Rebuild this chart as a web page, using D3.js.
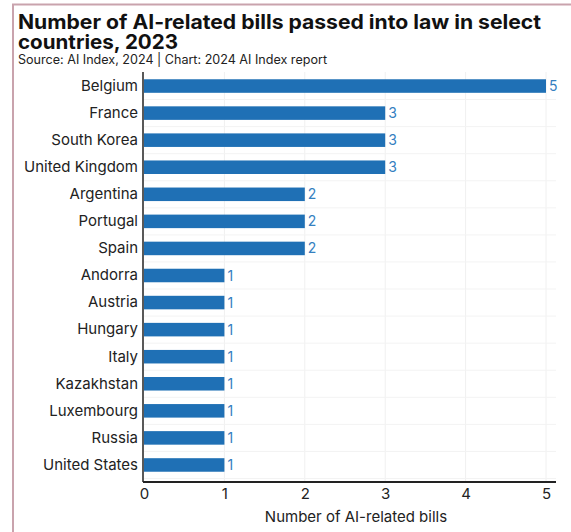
<!DOCTYPE html>
<html>
<head>
<meta charset="utf-8">
<script src="https://d3js.org/d3.v7.min.js"></script>
<style>
  body { margin: 0; background: #fff; }
  text { font-family: "Inter", "Noto Sans", sans-serif; }
</style>
</head>
<body>
<div id="my_dataviz"></div>
<script>
// data
var countries = ["Belgium", "France", "South Korea", "United Kingdom", "Argentina", "Portugal", "Spain",
  "Andorra", "Austria", "Hungary", "Italy", "Kazakhstan", "Luxembourg", "Russia", "United States"];
var bills = [5, 3, 3, 3, 2, 2, 2, 1, 1, 1, 1, 1, 1, 1, 1];
var xTicks = [0, 1, 2, 3, 4, 5];

var W = 571, H = 532;
var svg = d3.select("#my_dataviz").append("svg")
  .attr("width", W).attr("height", H);

// frame
svg.append("path")
  .attr("d", "M13,532 V4.5 H571")
  .attr("fill", "none")
  .attr("stroke", "#c9a3ad")
  .attr("stroke-width", 2);

var x = d3.scaleLinear().domain([0, 5]).range([144, 546]);
var y = d3.scaleBand().domain(countries).range([72.5, 478.5]).paddingInner(0.5).paddingOuter(0.25);

// grid
svg.append("g").selectAll("line.v")
  .data(xTicks.slice(1))
  .enter().append("line")
    .attr("x1", function(d) { return x(d); })
    .attr("x2", function(d) { return x(d); })
    .attr("y1", 72).attr("y2", 482)
    .attr("stroke", "#f0f0f0");
svg.append("g").selectAll("line.h")
  .data(countries)
  .enter().append("line")
    .attr("x1", 144).attr("x2", 556)
    .attr("y1", function(d) { return y(d) + y.bandwidth() / 2 + y.step() / 2; })
    .attr("y2", function(d) { return y(d) + y.bandwidth() / 2 + y.step() / 2; })
    .attr("stroke", "#f3f3f3");

// bars
svg.append("g").selectAll("rect")
  .data(countries)
  .enter().append("rect")
    .attr("x", x(0))
    .attr("y", function(d) { return y(d); })
    .attr("width", function(d, i) { return x(bills[i]) - x(0); })
    .attr("height", y.bandwidth())
    .attr("fill", "#1f70b5");

// value labels
svg.append("g").selectAll("text")
  .data(countries)
  .enter().append("text")
    .attr("x", function(d, i) { return x(bills[i]) + 3; })
    .attr("y", function(d) { return y(d) + y.bandwidth() / 2; })
    .attr("dy", "0.36em")
    .attr("fill", "#3580bf")
    .style("font-size", "14px")
    .text(function(d, i) { return bills[i]; });

// y axis
var yAxis = svg.append("g")
  .attr("transform", "translate(143,0)")
  .call(d3.axisLeft(y).tickSize(0).tickPadding(5));
yAxis.select(".domain").attr("stroke", "#222").attr("stroke-width", 1.5).attr("d", "M0,72V482");
yAxis.selectAll("text").style("font-size", "15px").attr("fill", "#222");

// x axis
var xAxis = svg.append("g")
  .attr("transform", "translate(0,482)")
  .call(d3.axisBottom(x).tickValues(xTicks).tickFormat(d3.format("d")).tickSize(0).tickPadding(6));
xAxis.select(".domain").attr("stroke", "#222").attr("stroke-width", 2).attr("d", "M143,0H556");
xAxis.selectAll("text").style("font-size", "15px").attr("fill", "#222");

svg.append("text")
  .attr("x", 356).attr("y", 522)
  .attr("text-anchor", "middle")
  .attr("fill", "#222")
  .style("font-size", "15px")
  .text("Number of AI-related bills");

// titles
svg.append("text")
  .attr("x", 18).attr("y", 29)
  .attr("fill", "#111")
  .attr("textLength", 523).attr("lengthAdjust", "spacingAndGlyphs")
  .style("font-size", "20px").style("font-weight", "700")
  .text("Number of AI-related bills passed into law in select");
svg.append("text")
  .attr("x", 18).attr("y", 49)
  .attr("fill", "#111")
  .attr("textLength", 160).attr("lengthAdjust", "spacingAndGlyphs")
  .style("font-size", "20px").style("font-weight", "700")
  .text("countries, 2023");
svg.append("text")
  .attr("x", 18).attr("y", 64)
  .attr("fill", "#222")
  .attr("textLength", 309).attr("lengthAdjust", "spacingAndGlyphs")
  .style("font-size", "12.5px")
  .text("Source: AI Index, 2024 | Chart: 2024 AI Index report");
</script>
</body>
</html>
